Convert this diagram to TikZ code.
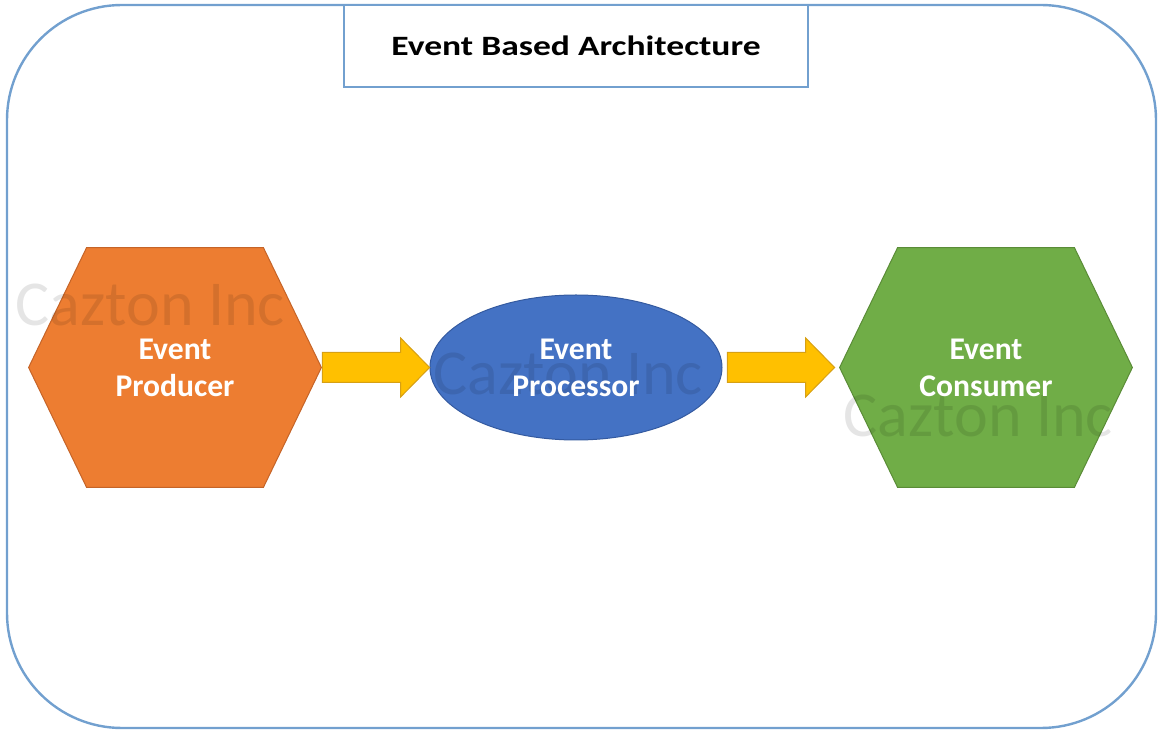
\documentclass[tikz,border=0pt]{standalone}
\usepackage{fontspec}
\setmainfont{Carlito}
\newfontfamily\titlefont[FakeStretch=1.27]{Carlito}
\usetikzlibrary{shapes.geometric,backgrounds}

\definecolor{frameblue}{RGB}{114,160,207}
\definecolor{prodorange}{RGB}{237,125,49}
\definecolor{prodedge}{RGB}{197,100,40}
\definecolor{procblue}{RGB}{68,114,196}
\definecolor{procedge}{RGB}{52,90,160}
\definecolor{consgreen}{RGB}{112,173,71}
\definecolor{consedge}{RGB}{90,140,55}
\definecolor{arrowyellow}{RGB}{255,192,0}
\definecolor{arrowedge}{RGB}{215,160,20}

\tikzset{
  hexlabel/.style={minimum width=146pt, minimum height=119.5pt, inner sep=0pt, align=center,
    text=white, font=\bfseries\fontsize{15.8}{18.5}\selectfont},
  proclabel/.style={ellipse, minimum width=146pt, minimum height=72.5pt, inner sep=0pt, align=center,
    text=white, font=\bfseries\fontsize{15.8}{18.5}\selectfont},
  titlebox/.style={draw=frameblue, line width=1pt, minimum width=232pt, minimum height=41pt,
    inner sep=0pt, font=\titlefont\bfseries\fontsize{14}{16}\selectfont},
  watermark/.style={anchor=base west, inner sep=0pt, text=black, text opacity=0.1,
    font=\fontsize{32}{36}\selectfont},
  arrowfill/.style={fill=arrowyellow, draw=arrowedge, line width=0.5pt}
}

\newcommand{\hexshape}[2]{
  \draw[#2] (#1.west) -- ([xshift=29pt]#1.north west) -- ([xshift=-29pt]#1.north east) -- (#1.east)
    -- ([xshift=-29pt]#1.south east) -- ([xshift=29pt]#1.south west) -- cycle;
}
\newcommand{\blockarrow}[2]{
  \draw[arrowfill] ([yshift=7.5pt]#1) -- ([shift={(-14.5pt,7.5pt)}]#2) -- ([shift={(-14.5pt,14.75pt)}]#2)
    -- (#2) -- ([shift={(-14.5pt,-14.75pt)}]#2) -- ([shift={(-14.5pt,-7.5pt)}]#2) -- ([yshift=-7.5pt]#1) -- cycle;
}

\begin{document}
\begin{tikzpicture}[x=0.5pt,y=-0.5pt]
\useasboundingbox (0,0) rectangle (1163,737);

\node[titlebox] (title) at (576,46) {Event Based Architecture};

\node[hexlabel] (prod) at (175,367.5) {Event\\Producer};
\node[proclabel] (proc) at (576,367.5) {Event\\Processor};
\node[hexlabel] (cons) at (986,367.5) {Event\\Consumer};

\coordinate (a1s) at ([xshift=0.5pt]prod.east);
\coordinate (a1t) at (proc.west);
\coordinate (a2s) at ([xshift=2.5pt]proc.east);
\coordinate (a2t) at ([xshift=-2.5pt]cons.west);

\begin{scope}[on background layer]
  \draw[frameblue, line width=1.2pt, rounded corners=57.5pt] (7,5) rectangle (1156,728);
  \fill[white] (title.south west) rectangle (title.north east);
  \hexshape{prod}{fill=prodorange, draw=prodedge, line width=0.5pt}
  \draw[fill=procblue, draw=procedge, line width=0.5pt] (proc.center) ellipse [x radius=146, y radius=72.5];
  \hexshape{cons}{fill=consgreen, draw=consedge, line width=0.5pt}
  \blockarrow{a1s}{a1t}
  \blockarrow{a2s}{a2t}
  \node[watermark] (wm1) at (15,326) {Cazton Inc};
  \node[watermark] (wm2) at (433,395) {Cazton Inc};
  \node[watermark] (wm3) at (843,437) {Cazton Inc};
\end{scope}
\end{tikzpicture}
\end{document}
